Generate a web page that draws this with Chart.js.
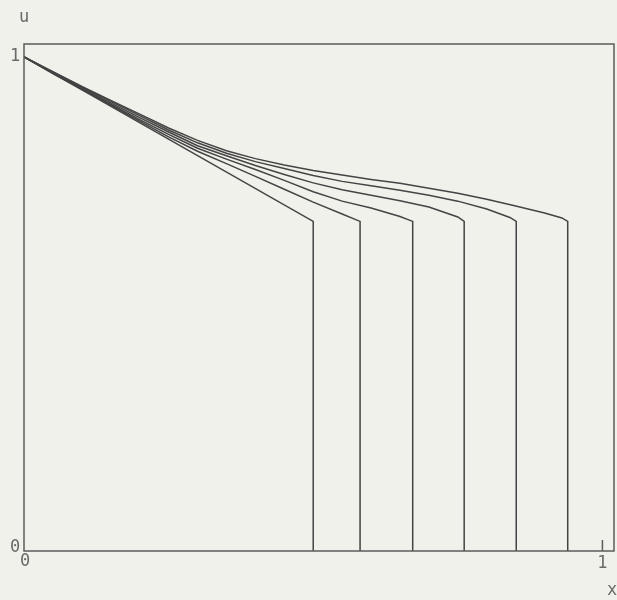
<!DOCTYPE html>
<html>
<head>
<meta charset="utf-8">
<script src="https://cdn.jsdelivr.net/npm/chart.js@4.4.1/dist/chart.umd.min.js"></script>
<style>
  html, body { margin: 0; padding: 0; background: #eff1ea; }
  #wrap { width: 617px; height: 600px; position: relative; }
</style>
</head>
<body>
<div id="wrap"><canvas id="chart"></canvas></div>
<script>
// profiles u(x), each one ends with a vertical drop at its front
const curve1X = [0, 0.5, 0.5];
const curve1U = [1, 0.667, 0];
const curve2X = [0, 0.05, 0.1, 0.15, 0.2, 0.25, 0.3, 0.35, 0.4, 0.45, 0.5, 0.55, 0.581, 0.581];
const curve2U = [1, 0.966, 0.934, 0.902, 0.870, 0.838, 0.809, 0.784, 0.758, 0.732, 0.706, 0.682, 0.667, 0];
const curve3X = [0, 0.05, 0.1, 0.15, 0.2, 0.25, 0.3, 0.35, 0.4, 0.45, 0.5, 0.55, 0.6, 0.65, 0.672, 0.672];
const curve3U = [1, 0.967, 0.935, 0.904, 0.873, 0.843, 0.815, 0.793, 0.772, 0.750, 0.727, 0.708, 0.694, 0.677, 0.667, 0];
const curve4X = [0, 0.05, 0.1, 0.15, 0.2, 0.25, 0.3, 0.35, 0.4, 0.45, 0.5, 0.55, 0.6, 0.65, 0.7, 0.75, 0.761, 0.761];
const curve4U = [1, 0.968, 0.937, 0.907, 0.877, 0.848, 0.820, 0.800, 0.780, 0.762, 0.745, 0.731, 0.720, 0.709, 0.696, 0.676, 0.667, 0];
const curve5X = [0, 0.05, 0.1, 0.15, 0.2, 0.25, 0.3, 0.35, 0.4, 0.45, 0.5, 0.55, 0.6, 0.65, 0.7, 0.75, 0.8, 0.84, 0.851, 0.851];
const curve5U = [1, 0.969, 0.939, 0.910, 0.881, 0.852, 0.826, 0.805, 0.788, 0.774, 0.760, 0.748, 0.739, 0.730, 0.720, 0.708, 0.692, 0.675, 0.667, 0];
const curve6X = [0, 0.05, 0.1, 0.15, 0.2, 0.25, 0.3, 0.35, 0.4, 0.45, 0.5, 0.55, 0.6, 0.65, 0.7, 0.75, 0.8, 0.85, 0.9, 0.93, 0.94, 0.94];
const curve6U = [1, 0.970, 0.940, 0.912, 0.884, 0.856, 0.831, 0.810, 0.794, 0.781, 0.770, 0.761, 0.752, 0.744, 0.734, 0.724, 0.712, 0.698, 0.684, 0.674, 0.667, 0];

const xTicks = [0, 1];
const yTicks = [0, 1];
const xTitle = 'x';
const yTitle = 'u';

const lineColor = '#444444';
const frameColor = '#5c5c5c';
const textColor = '#6a6a6a';
const labelFont = '17px "DejaVu Sans Mono", monospace';

function toPoints(xs, us) {
    return xs.map((x, i) => ({ x: x, y: us[i] }));
}

const curves = [
    [curve1X, curve1U], [curve2X, curve2U], [curve3X, curve3U],
    [curve4X, curve4U], [curve5X, curve5U], [curve6X, curve6U]
];

// frame box, tick labels and axis names, placed through the scales
const framePlugin = {
    id: 'frame',
    afterDraw(chart) {
        const { ctx, chartArea, scales } = chart;
        const xs = scales.x, ys = scales.y;
        ctx.save();
        ctx.strokeStyle = frameColor;
        ctx.lineWidth = 1.5;
        ctx.strokeRect(chartArea.left, chartArea.top,
            chartArea.right - chartArea.left, chartArea.bottom - chartArea.top);

        // small tick at x = 1
        const x1 = xs.getPixelForValue(1);
        ctx.beginPath();
        ctx.moveTo(x1, chartArea.bottom);
        ctx.lineTo(x1, chartArea.bottom - 11);
        ctx.stroke();

        ctx.fillStyle = textColor;
        ctx.font = labelFont;
        ctx.textBaseline = 'middle';
        ctx.textAlign = 'center';
        yTicks.forEach(v => {
            const yp = ys.getPixelForValue(v);
            ctx.fillText(String(v), chartArea.left - 9, v === 0 ? yp - 3 : yp);
        });
        xTicks.forEach(v => {
            const xp = xs.getPixelForValue(v);
            ctx.fillText(String(v), v === 0 ? xp + 1 : xp, chartArea.bottom + (v === 0 ? 11 : 13));
        });
        ctx.fillText(yTitle, chartArea.left, 18);
        ctx.fillText(xTitle, chartArea.right - 2, chartArea.bottom + 40);
        ctx.restore();
    }
};

new Chart(document.getElementById('chart').getContext('2d'), {
    type: 'line',
    data: {
        datasets: curves.map(c => ({
            data: toPoints(c[0], c[1]),
            borderColor: lineColor,
            borderWidth: 1.5,
            pointRadius: 0,
            tension: 0,
            fill: false
        }))
    },
    options: {
        responsive: true,
        maintainAspectRatio: false,
        animation: false,
        layout: { padding: { left: 24, top: 44, right: 3, bottom: 49 } },
        scales: {
            x: { type: 'linear', min: 0, max: 1.02, display: false },
            y: { type: 'linear', min: 0, max: 1.026, display: false }
        },
        plugins: {
            legend: { display: false },
            tooltip: { enabled: false }
        }
    },
    plugins: [framePlugin]
});
</script>
</body>
</html>
